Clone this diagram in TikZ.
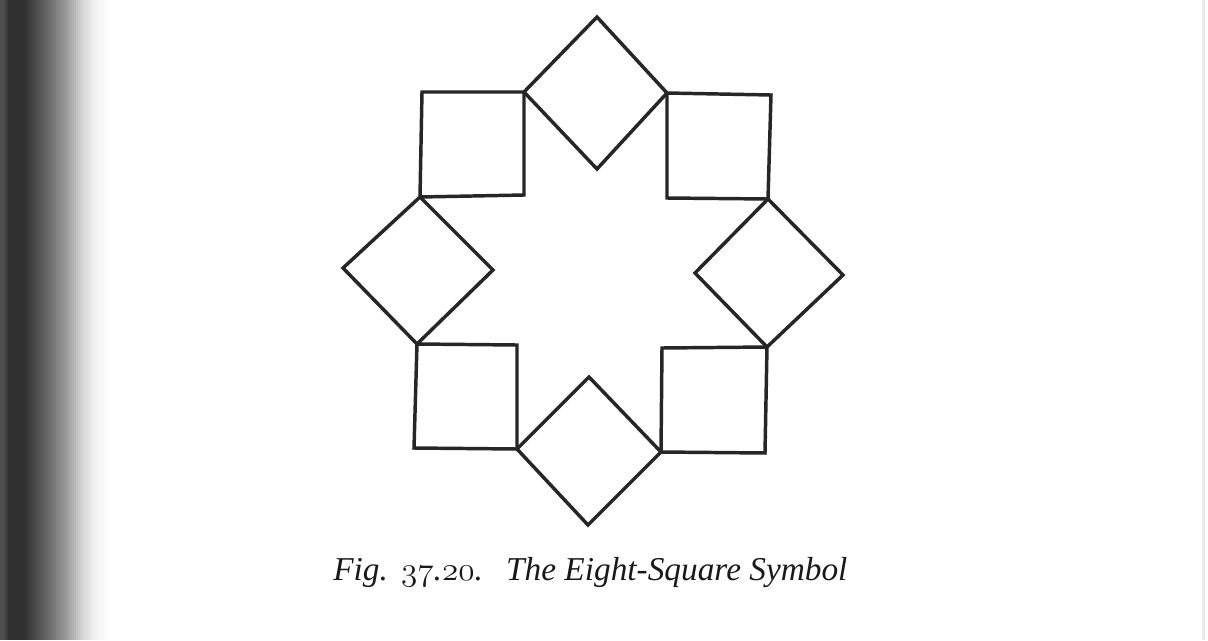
\documentclass[tikz,border=0pt]{standalone}
\usepackage{fontspec}
\newfontfamily\capfont{Liberation Serif}
\newcommand{\osnum}[1]{{\usefont{OML}{cmm}{m}{it}#1}}
\begin{document}
\begin{tikzpicture}[x=0.75pt,y=-0.75pt,
  sq/.style={draw=black!85,line width=2.6pt,line join=miter},
  caption/.style={font=\fontsize{25}{30}\capfont\itshape,anchor=base west,inner sep=0pt,text=black!90}]
\fill[white] (0,0) rectangle (1208,640);
\useasboundingbox (0,0) rectangle (1208,640);
% page shadow on the left
\foreach \x/\p in {0/69,2/69,4/71,6/77,8/81,10/81,12/81,14/81,16/81,18/81,20/81,22/81,
  24/80,26/79,28/77,30/75,32/73,34/71,36/69,38/68,40/66,42/64,44/62,46/60,48/58,50/56,
  52/54,54/52,56/49,58/47,60/45,62/43,64/41,66/38,68/36,70/33,72/30,74/27,76/24,78/21,
  80/18,82/16,84/14,86/13,88/11,90/9,92/7,94/6,96/5,98/4,100/3,102/3,104/2,106/1,108/1,110/0}
  {\fill[black!\p] (\x,0) rectangle ({\x+2.05},640);}
\fill[black!8] (1202,0) rectangle (1205,640);
% vertices
\coordinate (A) at (597,17);
\coordinate (B) at (524,92);
\coordinate (C) at (667,93);
\coordinate (D) at (597,169);
\coordinate (TLa) at (422,92);
\coordinate (TLb) at (524,195);
\coordinate (LT) at (420,197);
\coordinate (TRa) at (771,95);
\coordinate (TRb) at (667,198);
\coordinate (RT) at (768,199);
\coordinate (LL) at (343,268);
\coordinate (LR) at (493,270);
\coordinate (LB) at (417,344);
\coordinate (BLa) at (517,345);
\coordinate (BLb) at (414,448);
\coordinate (BL) at (517,449);
\coordinate (BT) at (589,377);
\coordinate (BR) at (661,452);
\coordinate (BB) at (588,525);
\coordinate (BRa) at (662,348);
\coordinate (BRb) at (765,453);
\coordinate (RB) at (767,347);
\coordinate (RL) at (695,273);
\coordinate (RR) at (843,275);
% squares
\draw[sq] (A) -- (C) -- (D) -- (B) -- cycle;
\draw[sq] (TLa) -- (B) -- (TLb) -- (LT) -- cycle;
\draw[sq] (C) -- (TRa) -- (RT) -- (TRb) -- cycle;
\draw[sq] (LT) -- (LR) -- (LB) -- (LL) -- cycle;
\draw[sq] (RT) -- (RR) -- (RB) -- (RL) -- cycle;
\draw[sq] (LB) -- (BLa) -- (BL) -- (BLb) -- cycle;
\draw[sq] (BRa) -- (RB) -- (BRb) -- (BR) -- cycle;
\draw[sq] (BT) -- (BR) -- (BB) -- (BL) -- cycle;
% caption
\node[caption] (cap) at (333,580) {Fig.\hspace{0.4em}\osnum{37}.\osnum{20}.\hspace{0.7em}The Eight-Square Symbol};
\end{tikzpicture}
\end{document}
